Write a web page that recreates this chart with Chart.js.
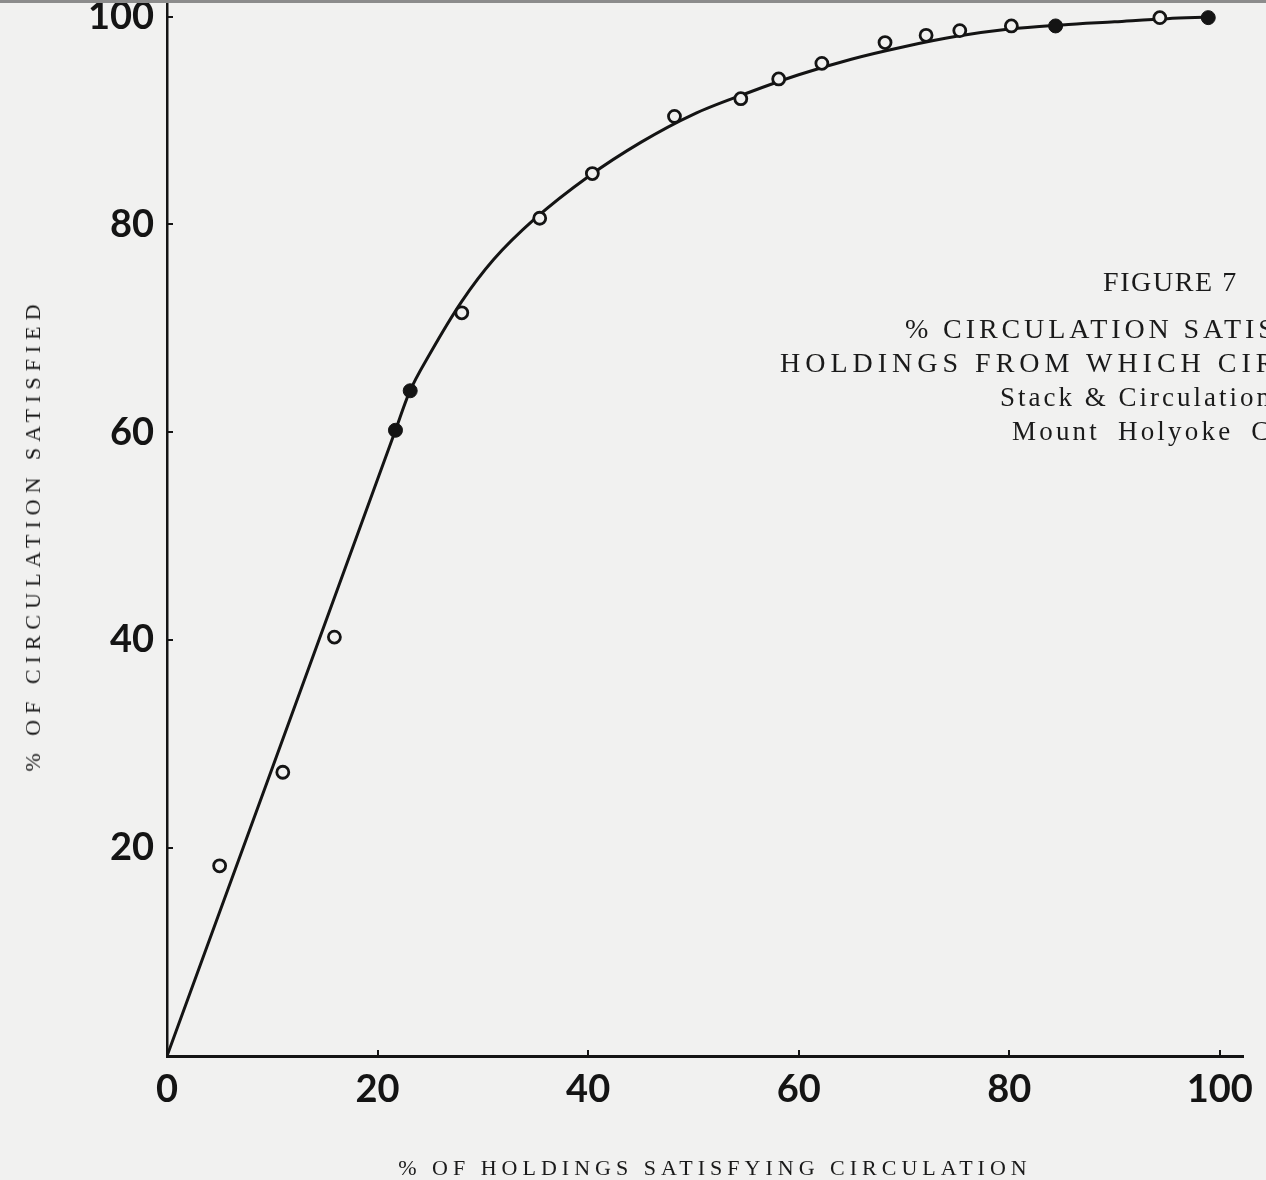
<!DOCTYPE html>
<html>
<head>
<meta charset="utf-8">
<script src="https://cdn.jsdelivr.net/npm/chart.js@4.4.1/dist/chart.umd.min.js"></script>
<style>
  html, body { margin: 0; padding: 0; }
  body {
    width: 1266px; height: 1180px; overflow: hidden; position: relative;
    background: #f1f1f0; color: #1a1a1a;
    font-family: "Liberation Serif", "DejaVu Serif", serif;
  }
  #chart { position: absolute; left: 0; top: 0; }
  .edge { position: absolute; left: 0; top: 0; width: 1266px; height: 3px; background: #8c8c8c; }
  .cap { position: absolute; white-space: nowrap; font-size: 28px; line-height: 1; }
  .axt { position: absolute; white-space: nowrap; line-height: 1; }
</style>
</head>
<body>
<canvas id="chart" width="1266" height="1180"></canvas>
<div class="edge"></div>

<div class="cap" style="left:1103px; top:268px; letter-spacing:1.6px;">FIGURE 7</div>
<div class="cap" style="left:905px; top:315px; letter-spacing:3.9px;">% CIRCULATION SATIS</div>
<div class="cap" style="left:780px; top:349px; letter-spacing:5px;">HOLDINGS FROM WHICH CIR</div>
<div class="cap" style="left:1000px; top:384px; font-size:27px; letter-spacing:3px;">Stack &amp; Circulation</div>
<div class="cap" style="left:1012px; top:418px; font-size:27px; letter-spacing:3.2px; word-spacing:8px;">Mount Holyoke C</div>

<div class="axt" style="left:715px; top:1168px; font-size:22px; letter-spacing:5px; transform:translate(-50%,-50%);">% OF HOLDINGS SATISFYING CIRCULATION</div>
<div class="axt" style="left:33px; top:535px; font-size:22px; letter-spacing:6px; transform:translate(-50%,-50%) rotate(-90deg);">% OF CIRCULATION SATISFIED</div>

<script>
// fitted curve
const curveX = [0, 10, 21.7, 23, 25, 28, 31, 35, 40, 45, 50, 55, 60, 65, 70, 75, 80, 85, 90, 95, 99];
const curveY = [0, 27.7, 60.2, 63.8, 67.6, 72.6, 76.6, 80.6, 84.6, 87.9, 90.6, 92.6, 94.4, 95.9, 97.1, 98.1, 98.8, 99.2, 99.5, 99.8, 99.95];

// open circles
const openX = [5, 11, 15.9, 28, 35.4, 40.4, 48.2, 54.5, 58.1, 62.2, 68.2, 72.1, 75.3, 80.2, 94.3];
const openY = [18.3, 27.3, 40.3, 71.5, 80.6, 84.9, 90.4, 92.1, 94.0, 95.5, 97.5, 98.2, 98.65, 99.1, 99.9];

// filled dots
const filledX = [21.7, 23.1, 84.4, 98.9];
const filledY = [60.2, 64.0, 99.1, 99.9];

const xTicks = [0, 20, 40, 60, 80, 100];
const yTicks = [0, 20, 40, 60, 80, 100];

const ink = "#141414";
const paper = "#f1f1f0";

const pts = (xs, ys) => xs.map((x, i) => ({ x: x, y: ys[i] }));

const ctx = document.getElementById("chart").getContext("2d");

new Chart(ctx, {
  type: "scatter",
  data: {
    datasets: [
      {
        data: pts(curveX, curveY),
        showLine: true,
        borderColor: ink,
        borderWidth: 3,
        pointRadius: 0,
        cubicInterpolationMode: "monotone",
        order: 2
      },
      {
        data: pts(openX, openY),
        pointRadius: 6,
        pointBorderWidth: 2.8,
        pointBackgroundColor: paper,
        pointBorderColor: ink,
        order: 1
      },
      {
        data: pts(filledX, filledY),
        pointRadius: 7,
        pointBorderWidth: 1,
        pointBackgroundColor: ink,
        pointBorderColor: ink,
        order: 1
      }
    ]
  },
  options: {
    responsive: false,
    animation: false,
    events: [],
    layout: { autoPadding: false, padding: { top: 1, right: 23, left: 0, bottom: 0 } },
    plugins: {
      legend: { display: false },
      tooltip: { enabled: false }
    },
    scales: {
      x: {
        type: "linear",
        min: 0,
        max: 102.2,
        afterBuildTicks: s => { s.ticks = xTicks.map(v => ({ value: v })); },
        afterFit: s => { s.height = 124; s.paddingLeft = 0; s.paddingRight = 0; },
        border: { color: ink, width: 3 },
        grid: { drawOnChartArea: false, drawTicks: true, tickLength: -6, color: ink, lineWidth: 2 },
        ticks: {
          padding: 17,
          color: ink,
          maxRotation: 0,
          autoSkip: false,
          font: { family: "Lato", size: 38, weight: "bold" },
          callback: v => String(v)
        }
      },
      y: {
        type: "linear",
        min: 0,
        max: 101.5,
        afterBuildTicks: s => { s.ticks = yTicks.map(v => ({ value: v })); },
        afterFit: s => { s.width = 167; s.paddingTop = 0; s.paddingBottom = 0; },
        border: { color: ink, width: 2.5 },
        grid: { drawOnChartArea: false, drawTicks: true, tickLength: -6, color: ink, lineWidth: 2 },
        ticks: {
          padding: 19,
          color: ink,
          autoSkip: false,
          font: { family: "Lato", size: 38, weight: "bold", lineHeight: 0.8 },
          callback: v => (v === 0 ? "" : String(v))
        }
      }
    }
  }
});
</script>
</body>
</html>
